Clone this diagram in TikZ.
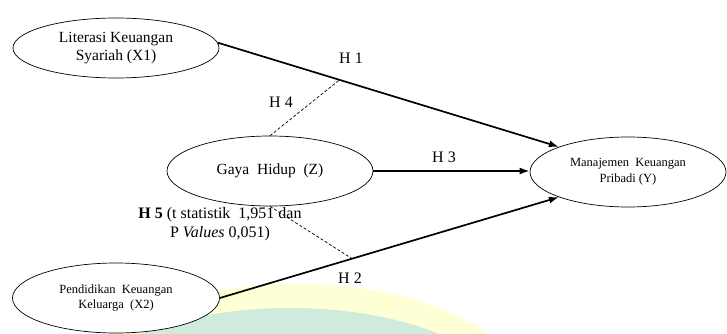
\documentclass[tikz,border=0pt]{standalone}
\usepackage{fontspec}
\setmainfont{Liberation Serif}
\usetikzlibrary{arrows.meta,shapes.geometric}
\definecolor{wmyellow}{HTML}{FFFFD6}
\definecolor{wmgreen}{HTML}{CFEBDD}
\tikzset{
  var/.style={ellipse,draw,fill=white,line width=0.7pt,inner sep=0pt,align=center},
  arr/.style={line width=1.7pt,-{Latex[length=10pt,width=7pt]}},
  dsh/.style={line width=0.7pt,dash pattern=on 3pt off 2pt},
  lab/.style={font=\fontsize{16}{19}\selectfont,anchor=base,inner sep=0pt}
}
\begin{document}
\begin{tikzpicture}[x=1pt,y=-1pt]
\useasboundingbox (0,0) rectangle (727,334);
\begin{scope}
\clip (0,0) rectangle (727,334);
% faint watermark bands
\fill[wmyellow] (298,400) ellipse [x radius=231, y radius=116];
\fill[wmgreen] (290,400) ellipse [x radius=214, y radius=92];
\end{scope}

\node[var,minimum width=206,minimum height=60,font=\fontsize{15.5}{18}\selectfont]
  (x1) at (116,48) {Literasi Keuangan\\Syariah (X1)};
\node[var,minimum width=206,minimum height=70,font=\fontsize{15.5}{18}\selectfont]
  (z) at (270,171) {Gaya\ \ Hidup\ \ (Z)};
\node[var,minimum width=207,minimum height=70,font=\fontsize{12.5}{15}\selectfont]
  (x2) at (116,298) {\raisebox{-3pt}{Pendidikan\ \ Keuangan}\\[0pt]\raisebox{-3pt}{Keluarga\ \ (X2)}};
\node[var,minimum width=196,minimum height=70,font=\fontsize{12.5}{16}\selectfont]
  (y) at (628,172) {Manajemen\ \ Keuangan\\Pribadi (Y)};

\draw[arr] (x1.3) -- coordinate[pos=0.357] (m1) (y.160);
\draw[arr] (z.east) -- (z.east -| y.west);
\draw[arr] (x2.east) -- coordinate[pos=0.39] (m2) (y.200);
\draw[dsh] (z.north) -- (m1);
\draw[dsh] (z.south) -- (m2);

\node[lab] (h1) at (351,64) {H 1};
\node[lab] (h4) at (281,107) {H 4};
\node[lab] (h3) at (444,162) {H 3};
\node[lab] (h2) at (350,283) {H 2};
\node[lab,align=center,anchor=base] (h5) at (220,237)
  {\textbf{H 5} (t statistik\ \ 1,951 dan\\P \textit{Values} 0,051)};
\end{tikzpicture}
\end{document}
